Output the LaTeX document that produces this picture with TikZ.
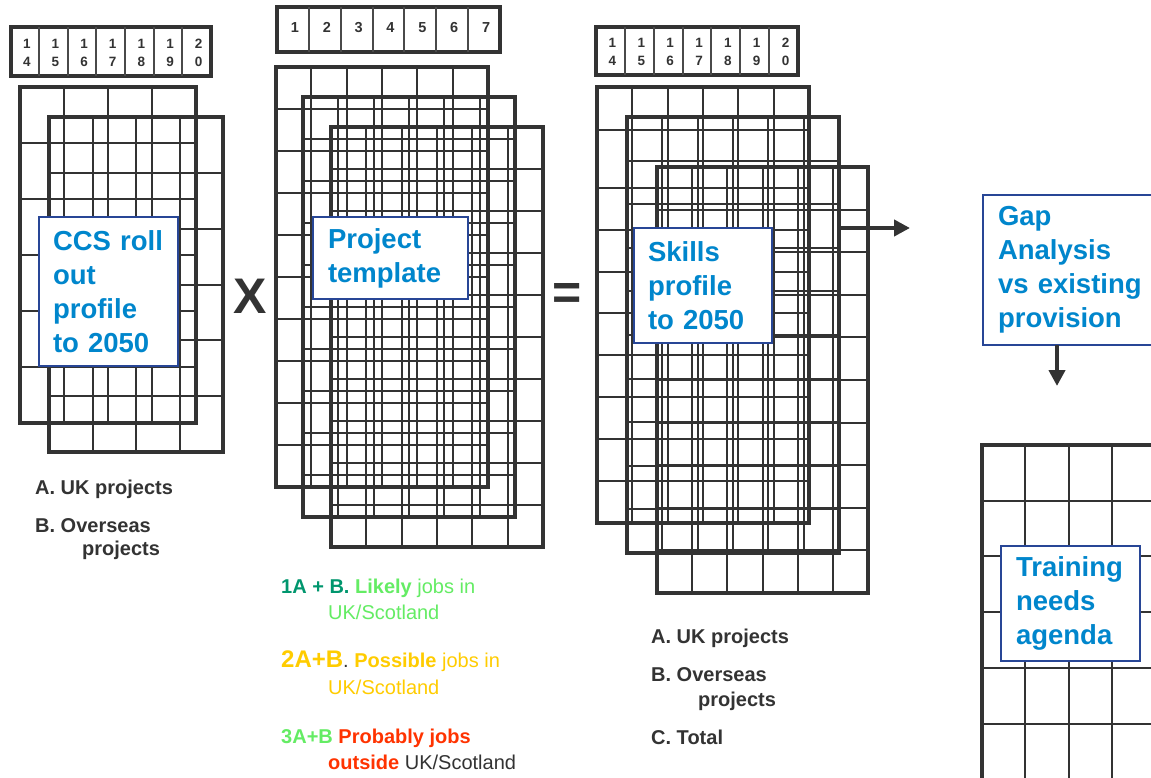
\documentclass[tikz,border=0pt]{standalone}
\usepackage{fontspec}
\setmainfont{Liberation Sans}
\usetikzlibrary{arrows.meta}
\definecolor{gridc}{HTML}{333333}
\definecolor{divc}{HTML}{4A4A4A}
\definecolor{bluet}{RGB}{0,134,204}
\definecolor{boxc}{RGB}{40,70,150}
\definecolor{textg}{HTML}{333333}
\definecolor{dkgreen}{RGB}{0,150,110}
\definecolor{ltgreen}{RGB}{100,236,100}
\definecolor{yel}{RGB}{255,204,0}
\definecolor{redt}{RGB}{255,51,0}
\tikzset{
  gframe/.style={draw=gridc, line width=4pt, inner sep=0pt, outer sep=0pt},
  ginner/.style={draw=gridc, line width=2pt},
  hframe/.style={draw=gridc, line width=4pt, inner sep=0pt, outer sep=0pt},
  hdiv/.style={draw=divc, line width=2pt},
  dig/.style={anchor=base, text=gridc, inner sep=0pt, font=\bfseries\fontsize{13.5}{15}\selectfont},
  bigdig/.style={anchor=base, text=gridc, inner sep=0pt, font=\bfseries\fontsize{14.5}{16}\selectfont},
  lbl/.style={draw=boxc, line width=1.5pt, fill=white, text=bluet, anchor=north west,
    align=left, inner ysep=0pt, outer sep=0pt,
    font=\bfseries\fontsize{27.5}{34}\selectfont},
  note/.style={anchor=base west, inner sep=0pt, text=textg, font=\bfseries\fontsize{20}{24}\selectfont},
  cnote/.style={anchor=base west, inner sep=0pt, font=\fontsize{20}{24}\selectfont},
  op/.style={text=gridc, inner sep=0pt, font=\bfseries\fontsize{50}{56}\selectfont},
  arr/.style={draw=gridc, line width=4.5pt, -{Triangle[length=16pt,width=16pt]}}
}
% name, x0, y0, width, height, cols, rows
\newcommand{\ugrid}[7]{%
  \node[gframe, anchor=north west, minimum width=#4, minimum height=#5] (#1) at (#2,#3) {};%
  \pgfmathsetmacro\cw{#4/#6}\pgfmathsetmacro\rh{#5/#7}%
  \pgfmathtruncatemacro\nc{#6-1}\pgfmathtruncatemacro\nr{#7-1}%
  \foreach \k in {1,...,\nc}{\draw[ginner] ({#2+\k*\cw},#3) -- ++(0,#5);}%
  \foreach \k in {1,...,\nr}{\draw[ginner] (#2,{#3+\k*\rh}) -- ++(#4,0);}%
}
% name, x0, y0, width, height (7 cells)
\newcommand{\hdr}[5]{%
  \node[hframe, anchor=north west, minimum width=#4, minimum height=#5] (#1) at (#2,#3) {};%
  \pgfmathsetmacro\cw{#4/7}%
  \foreach \k in {1,...,6}{\draw[hdiv] ({#2+\k*\cw},#3) -- ++(0,#5);}%
}
\begin{document}
\begin{tikzpicture}[x=1pt, y=-1pt]
\useasboundingbox (0,0) rectangle (1151,778);
\fill[white] (0,0) rectangle (1151,778);

% ---------- left column ----------
\hdr{lh}{10.5}{27}{200.5}{49}
\foreach \a/\b [count=\i from 0] in {1/4,1/5,1/6,1/7,1/8,1/9,2/0}{
  \node[dig] (lt\i) at ({12.5+28.64*(\i+0.5)},48.5) {\a};
  \node[dig] (lb\i) at ({12.5+28.64*(\i+0.5)},66.5) {\b};
}
\ugrid{lA}{20}{87}{176}{336}{4}{6}
\ugrid{lB}{49}{117}{174}{335}{4}{6}
\node[lbl, text width=111pt, inner xsep=14pt, minimum height=149pt] (ccs) at (39,217)
  {CCS roll\\out\\profile\\to 2050};
\node[note] (la) at (35,494) {A. UK projects};
\node[note] (lb) at (35,532) {B. Overseas};
\node[note] (lbp) at (82,555) {projects};

\node[op] (times) at (250,296) {X};

% ---------- middle column ----------
\hdr{mh}{277}{7}{223}{45}
\foreach \a [count=\i from 0] in {1,2,3,4,5,6,7}{
  \node[bigdig] (md\i) at ({279+31.86*(\i+0.5)},32.5) {\a};
}
\ugrid{mA}{276}{67}{212}{420}{6}{10}
\ugrid{mB}{303}{97}{212}{420}{6}{10}
\ugrid{mC}{331}{127}{212}{420}{6}{10}
\node[lbl, text width=125pt, inner xsep=15pt, minimum height=82pt] (proj) at (313,217)
  {Project\\template};

\node[cnote] (c1) at (281,593) {\textcolor{dkgreen}{\bfseries 1A + B.} \textcolor{ltgreen}{\bfseries Likely} \textcolor{ltgreen}{jobs in}};
\node[cnote, text=ltgreen] (c2) at (328,619) {UK/Scotland};
\node[cnote] (c3) at (281,667) {\textcolor{yel}{\bfseries\fontsize{24}{28}\selectfont 2A+B}\textcolor{textg}{.} \textcolor{yel}{\bfseries Possible} \textcolor{yel}{jobs in}};
\node[cnote, text=yel] (c4) at (328,694) {UK/Scotland};
\node[cnote] (c5) at (281,743) {\textcolor{ltgreen}{\bfseries 3A+B} \textcolor{redt}{\bfseries Probably jobs}};
\node[cnote] (c6) at (328,769) {\textcolor{redt}{\bfseries outside} \textcolor{textg}{UK/Scotland}};

\node[op] (equals) at (567,296) {=};

% ---------- right column ----------
\hdr{rh}{596}{27}{202}{48}
\foreach \a/\b [count=\i from 0] in {1/4,1/5,1/6,1/7,1/8,1/9,2/0}{
  \node[dig] (rt\i) at ({598+28.86*(\i+0.5)},48) {\a};
  \node[dig] (rb\i) at ({598+28.86*(\i+0.5)},66) {\b};
}
% grid A with its own row lines
\node[gframe, anchor=north west, minimum width=212, minimum height=436] (rA) at (597,87) {};
\foreach \xx in {632.3,667.7,703,738.3,773.7}{\draw[ginner] (\xx,87) -- (\xx,523);}
\foreach \yy in {130,188,230,272,313,355,397,439,481}{\draw[ginner] (597,\yy) -- (809,\yy);}
\ugrid{rB}{627}{117}{212}{436}{6}{10}
\ugrid{rC}{657}{167}{211}{426}{6}{10}
\node[lbl, text width=110pt, inner xsep=14pt, minimum height=115pt] (skills) at (634,228)
  {Skills\\profile\\to 2050};
\node[note] (ra) at (651,643) {A. UK projects};
\node[note] (rb) at (651,681) {B. Overseas};
\node[note] (rbp) at (698,706) {projects};
\node[note] (rc) at (651,744) {C. Total};

% ---------- far right ----------
\coordinate (arrtip) at (910,228);
\draw[arr] (arrtip -| rB.east) -- (arrtip);
\node[lbl, text width=157pt, inner xsep=15pt, minimum height=150pt] (gap) at (983,195)
  {Gap\\Analysis\\vs existing\\provision};
\coordinate (downtip) at (1057,386);
\draw[arr] (downtip |- gap.south) -- (downtip);

\ugrid{tg}{982}{445}{173.2}{390}{4}{7}
\node[lbl, text width=109pt, inner xsep=15pt, minimum height=115pt] (train) at (1001,546)
  {Training\\needs\\agenda};
\end{tikzpicture}
\end{document}
